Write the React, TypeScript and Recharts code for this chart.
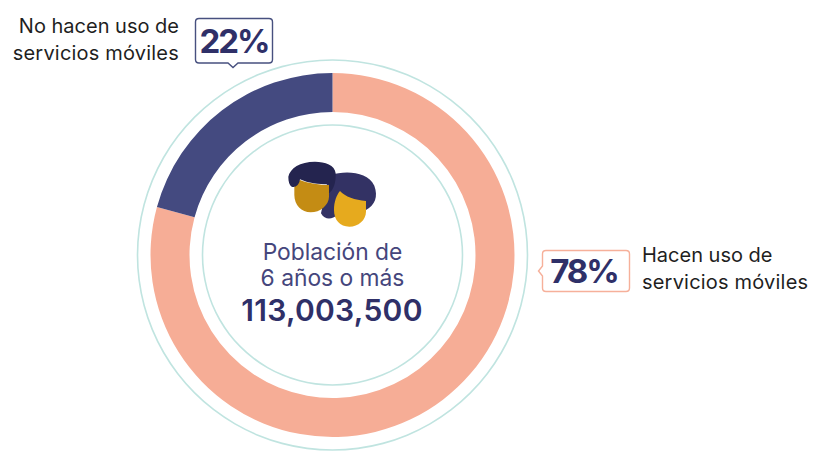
import React from 'react';
import { PieChart, Pie, Cell } from 'recharts';

const categories = ['Hacen uso de servicios móviles', 'No hacen uso de servicios móviles'];
// arc sizes as drawn in the picture, the printed labels round differently
const arcValues = [79.25, 20.75];
const percentLabels = ['78%', '22%'];
const centerLines = ['Población de', '6 años o más'];
const totalLabel = '113,003,500';
const sliceColors = ['#f6ad96', '#444a80'];

const pieData = categories.map((name, i) => ({ name, value: arcValues[i] }));
const ringData = [{ name: 'ring', value: 1 }];

const FONT = 'Inter, "Noto Sans", sans-serif';
const NAVY = '#2f3068';
const RING = '#c0e4e0';

const Person = () => (
  <g transform="translate(280 155) scale(0.3333)">
    {/* back person */}
    <path
      d="M150,60 C200,46 262,50 283,92 C295,125 285,150 258,165 L240,195 L170,180 C160,192 135,198 123,175 C128,150 135,130 135,105 Z"
      fill="#333264"
    />
    <path
      d="M180,108 C195,125 225,135 258,138 L258,170 C258,195 235,215 208,215 C180,215 162,195 162,165 C162,140 170,120 180,108 Z"
      fill="#e6aa1e"
    />
    {/* front person */}
    <path
      d="M60,75 C85,85 120,90 147,90 L147,125 C147,150 120,172 92,172 C65,172 43,150 43,120 L43,95 Z"
      fill="#c48c14"
    />
    <path
      d="M25,65 C30,40 60,20 105,20 C135,20 165,30 167,55 C168,85 160,105 147,115 L147,88 C115,88 85,85 60,73 C58,90 45,100 35,95 C28,90 25,80 25,65 Z"
      fill="#24244f"
    />
  </g>
);

const App = () => {
  return (
    <div style={{ position: 'absolute', left: 0, top: 0, width: 817, height: 454, background: '#fff' }}>
      <PieChart width={817} height={454} margin={{ top: 0, right: 0, bottom: 0, left: 0 }}>
        <Pie
          data={ringData}
          dataKey="value"
          cx={332.5}
          cy={255}
          innerRadius={194.2}
          outerRadius={195.8}
          stroke="none"
          fill={RING}
          isAnimationActive={false}
        />
        <Pie
          data={ringData}
          dataKey="value"
          cx={332.5}
          cy={255}
          innerRadius={129.2}
          outerRadius={130.8}
          stroke="none"
          fill={RING}
          isAnimationActive={false}
        />
        <Pie
          data={pieData}
          dataKey="value"
          cx={332.5}
          cy={255}
          innerRadius={143}
          outerRadius={182}
          startAngle={90}
          endAngle={-270}
          stroke="none"
          isAnimationActive={false}
        >
          {pieData.map((d, i) => (
            <Cell key={d.name} fill={sliceColors[i]} />
          ))}
        </Pie>

        <Person />

        <text x={332.5} y={260} textAnchor="middle" fontFamily={FONT} fontSize={22.8} fill="#45467c">{centerLines[0]}</text>
        <text x={332.5} y={286} textAnchor="middle" fontFamily={FONT} fontSize={22.8} fill="#45467c">{centerLines[1]}</text>
        <text x={332} y={321} textAnchor="middle" fontFamily={FONT} fontSize={30} fontWeight={600} letterSpacing={0.3} fill={NAVY}>{totalLabel}</text>

        {/* 22% callout */}
        <path
          d="M199,18.5 H269 Q272.5,18.5 272.5,22 V59.5 Q272.5,63 269,63 H238 L233,67.5 L228,63 H199 Q195.5,63 195.5,59.5 V22 Q195.5,18.5 199,18.5 Z"
          fill="#fff"
          stroke="#47507f"
          strokeWidth={1.4}
        />
        <text x={234} y={53} textAnchor="middle" fontFamily={FONT} fontSize={33} fontWeight={700} letterSpacing={-2} fill={NAVY}>{percentLabels[1]}</text>
        <text x={179} y={33} textAnchor="end" fontFamily={FONT} fontSize={20} fill="#1f1f1f">No hacen uso de</text>
        <text x={179} y={60} textAnchor="end" fontFamily={FONT} fontSize={20} letterSpacing={0.2} fill="#1f1f1f">servicios móviles</text>

        {/* 78% callout */}
        <path
          d="M546,250.5 H626 Q629.5,250.5 629.5,254 V288 Q629.5,291.5 626,291.5 H546 Q542.5,291.5 542.5,288 V276 L538.5,271 L542.5,266 V254 Q542.5,250.5 546,250.5 Z"
          fill="#fff"
          stroke="#f6b09a"
          strokeWidth={1.4}
        />
        <text x={584} y={283} textAnchor="middle" fontFamily={FONT} fontSize={33} fontWeight={700} letterSpacing={-2} fill={NAVY}>{percentLabels[0]}</text>
        <text x={642} y={262} fontFamily={FONT} fontSize={20} fill="#1f1f1f">Hacen uso de</text>
        <text x={642} y={289} fontFamily={FONT} fontSize={20} letterSpacing={0.2} fill="#1f1f1f">servicios móviles</text>
      </PieChart>
    </div>
  );
};

export default App;
